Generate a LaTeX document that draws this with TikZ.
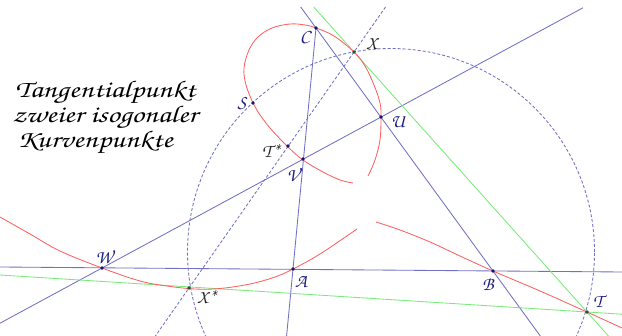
\documentclass[tikz,border=0pt]{standalone}
\usetikzlibrary{calc}
\definecolor{lineblue}{RGB}{112,112,196}
\definecolor{curvered}{RGB}{255,96,96}
\definecolor{tangreen}{RGB}{120,235,120}
\definecolor{ptnavy}{RGB}{20,20,110}
\definecolor{ptgreen}{RGB}{20,90,40}
\definecolor{labnavy}{RGB}{30,30,130}
\newcommand{\chancery}{\fontencoding{T1}\fontfamily{pzc}\fontseries{mb}\fontshape{it}\selectfont}
\tikzset{
  blueline/.style={draw=lineblue, line width=0.85pt},
  dashline/.style={draw=lineblue, line width=0.85pt, dash pattern=on 3pt off 2pt},
  redcurve/.style={draw=curvered, line width=0.85pt},
  greenline/.style={draw=tangreen, line width=0.85pt},
  pt/.style={circle, fill=ptnavy, inner sep=0pt, minimum size=3.6pt},
  gpt/.style={circle, fill=ptgreen, inner sep=0pt, minimum size=3.6pt},
  lab/.style={text=labnavy, font=\chancery\fontsize{19}{19}\selectfont, inner sep=0pt},
  blab/.style={lab, text=black!85},
  titletext/.style={font=\chancery\fontsize{24}{24}\selectfont, inner sep=0pt, anchor=base west, text=black, xscale=1.27}
}
\begin{document}
\begin{tikzpicture}[x=1pt,y=-1pt]
\useasboundingbox (0,0) rectangle (622,336);
% points
\coordinate (C) at (316,28);
\coordinate (X) at (354,52);
\coordinate (S) at (253,103);
\coordinate (U) at (381,117);
\coordinate (Ts) at (288,146);
\coordinate (V) at (303,159);
\coordinate (W) at (102,268);
\coordinate (A) at (293,269);
\coordinate (B) at (493,271);
\coordinate (Xs) at (189,288);
\coordinate (T) at (587,312);
\coordinate (O) at (391,252);
% line ends
\coordinate (abL) at (0,267);
\coordinate (abR) at (622,272);
\coordinate (cbTop) at (300.7,7);
\coordinate (cbBot) at (540.3,336);
\coordinate (caBot) at (286.6,336);
\coordinate (wuStart) at (0,323.2);
\coordinate (wuEnd) at (583,7.8);
\coordinate (gxTop) at (313.7,7);
\coordinate (gxBot) at (608.5,336);
\coordinate (gsL) at (0,275);
\coordinate (gsR) at (622,314.2);
\coordinate (dTop) at (385.5,7);
\coordinate (dBot) at (155.4,336);
\begin{scope}
\clip (0,7) rectangle (622,336);
\draw[dashline] (O) circle[radius=203.5pt];
\draw[dashline] (dTop) -- (dBot);
\draw[blueline] (abL) -- (abR);
\draw[blueline] (cbTop) -- (cbBot);
\draw[blueline] (C) -- (caBot);
\draw[blueline] (wuStart) -- (wuEnd);
\draw[greenline] (gxTop) -- (gxBot);
\draw[greenline] (gsL) -- (gsR);
% red curves
\draw[redcurve] plot[smooth, tension=0.6] coordinates {(0,217) (30,234) (60,251) (102,268) (140,281) (167,286) (195,289) (220,288.5) (250,284) (275,277) (293,269) (320,254) (357,229)};
\draw[redcurve] plot[smooth, tension=0.6] coordinates {(376,222) (400,230) (430,242) (460,256) (493,271) (540,291) (587,312) (622,328)};
\draw[redcurve] plot[smooth, tension=0.6] coordinates {(353,183) (340,180) (323,172) (303,160) (288,147) (270,128) (258,112) (253,103) (246,85) (244,68) (249,50) (258,37) (272,28) (290,24) (305,25) (316,28) (334,36) (354,52) (365,66) (374,85) (380,103) (381,117) (380,140) (375,160) (368,176)};
\end{scope}
% dots
\node[pt] (dC) at (C) {};
\node[pt] (dS) at (S) {};
\node[pt] (dU) at (U) {};
\node[pt] (dTs) at (Ts) {};
\node[pt] (dV) at (V) {};
\node[pt] (dW) at (W) {};
\node[pt] (dA) at (A) {};
\node[pt] (dB) at (B) {};
\node[gpt] (dX) at (X) {};
\node[gpt] (dXs) at (Xs) {};
\node[gpt] (dT) at (T) {};
% labels
\node[lab] (lC) at (305,37) {C};
\node[blab] (lX) at (372,44) {X};
\node[lab] (lS) at (242,103) {S};
\node[lab] (lU) at (398,122) {U};
\node[blab] (lTs) at (271,151) {T*};
\node[lab] (lV) at (293,175) {V};
\node[lab] (lW) at (104,257) {W};
\node[lab] (lA) at (301,282) {A};
\node[lab] (lB) at (488,284) {B};
\node[blab] (lXs) at (207,298) {X*};
\node[lab] (lT) at (598,301) {T};
% title
\node[titletext] (t1) at (15,98) {Tangentialpunkt};
\node[titletext] (t2) at (12,123) {zweier isogonaler};
\node[titletext] (t3) at (17,148) {Kurvenpunkte};
\end{tikzpicture}
\end{document}
